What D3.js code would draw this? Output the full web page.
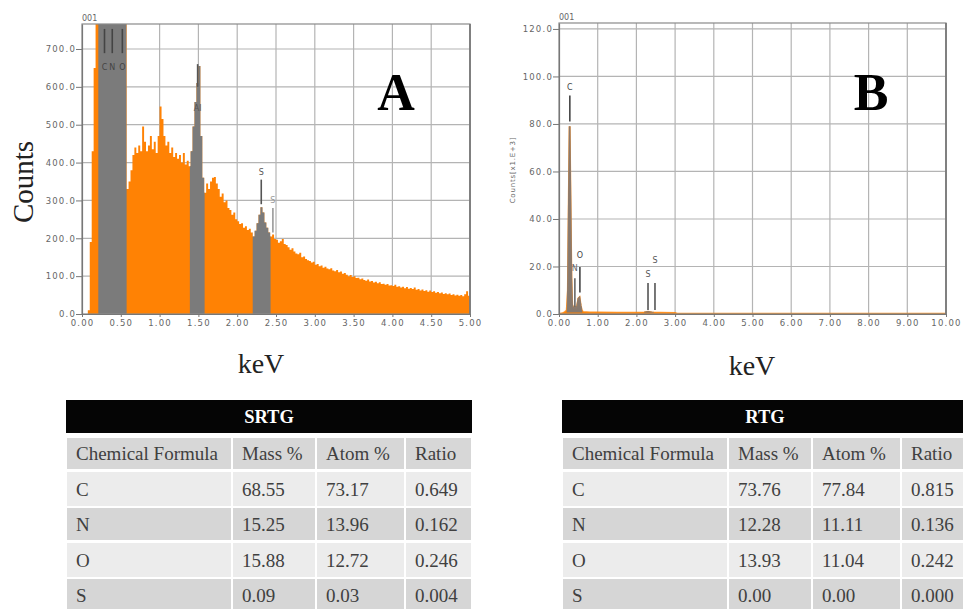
<!DOCTYPE html>
<html>
<head>
<meta charset="utf-8">
<script src="https://cdn.jsdelivr.net/npm/d3@7"></script>
<style>
  body { margin: 0; background: #fff; }
  svg { display: block; }
</style>
</head>
<body>
<div id="chart"></div>
<script>
// ---- data ----
// spectrum A: counts per 0.025 keV channel, 0.000 .. 5.000 keV (values above the frame are clipped)
const channelA = 0.025;
const countsA = [
  0, 0, 0, 10, 190, 430, 650, 1000, 1500,
  2000, 2000, 2000, 2000, 2000, 2000, 2000, 2000, 2000, 2000, 2000, 2000, 2000, 2000,
  330, 350, 380, 420, 440, 425, 445, 430, 495, 455, 430, 445, 470, 435, 455, 425, 470,
  548, 515, 470, 445, 455, 425, 440, 415, 425, 410, 420, 400, 425, 395, 405, 390,
  430, 495, 560, 610, 655, 470, 360, 320, 345, 330, 350, 360, 362, 345, 330, 310,
  318, 295, 300, 280, 275, 262, 268, 250, 245, 238, 240, 228, 232, 222, 225, 215,
  205, 220, 240, 262, 282, 268, 242, 228, 215, 205, 210, 198, 196, 188, 192, 198,
  185, 182, 176, 170, 174, 165, 160, 158, 162, 150, 152, 145, 142, 140, 136, 138,
  130, 132, 126, 128, 122, 125, 120, 118, 121, 115, 113, 116, 110, 112, 106, 108,
  104, 100, 103, 98, 100, 95, 96, 92, 94, 90, 88, 91, 86, 87, 83, 85,
  81, 84, 79, 80, 77, 79, 75, 76, 74, 77, 72, 73, 70, 72, 68, 71,
  67, 69, 66, 70, 64, 66, 62, 65, 61, 63, 59, 62, 58, 60, 56, 58,
  55, 57, 53, 55, 52, 54, 50, 52, 49, 51, 48, 50, 47, 52, 60, 48, 46
];
const greyRangesA = [[0.21, 0.575], [1.39, 1.58], [2.2, 2.43]];

// spectrum B: counts (x1000) against energy
const keVB = [0, 0.1, 0.15, 0.2, 0.23, 0.255, 0.275, 0.295, 0.32, 0.34, 0.36, 0.38, 0.41, 0.44,
  0.47, 0.5, 0.53, 0.56, 0.59, 0.62, 0.8, 1.0, 1.5, 2.0, 2.2, 2.3, 2.4, 2.6, 3.0, 3.05, 5, 10];
const countsB = [0, 0.3, 0.8, 1.5, 10, 50, 79, 50, 15, 4, 2.8, 2.5, 3, 2.2,
  3.5, 6.5, 7, 3.5, 1.5, 0.8, 0.6, 0.6, 0.5, 0.5, 0.6, 0.9, 0.6, 0.5, 0.4, 0.1, 0.1, 0.1];
const greyRangesB = [[0.2, 0.6], [2.2, 2.45]];

// element markers: [label, keV, top, bottom, labelY, colour]
const markersA = [
  ["C", 0.29, 753, 689, 653, "#444"],
  ["N", 0.39, 753, 689, 653, "#444"],
  ["O", 0.52, 753, 689, 653, "#444"],
  ["Al", 1.49, 660, 600, 545, "#555"],
  ["S", 2.31, 355, 290, 375, "#555"],
  ["S", 2.46, 280, 215, 300, "#999"]
];
const markersB = [
  ["C", 0.28, 92, 81, 95.5, "#444"],
  ["N", 0.41, 15, 3, 19.4, "#666"],
  ["O", 0.54, 19.8, 9, 24.8, "#444"],
  ["S", 2.30, 13, 1.7, 17, "#555"],
  ["S", 2.48, 13, 1.7, 22.7, "#555"]
];

// tables
const tableCols = ["Chemical Formula", "Mass %", "Atom %", "Ratio"];
const elements = ["C", "N", "O", "S"];
const srtgMass = [68.55, 15.25, 15.88, 0.09];
const srtgAtom = [73.17, 13.96, 12.72, 0.03];
const srtgRatio = [0.649, 0.162, 0.246, 0.004];
const rtgMass = [73.76, 12.28, 13.93, 0.00];
const rtgAtom = [77.84, 11.11, 11.04, 0.00];
const rtgRatio = [0.815, 0.136, 0.242, 0.000];

// ---- drawing ----
const svg = d3.select("#chart").append("svg")
  .attr("width", 963)
  .attr("height", 609);

const orange = "#ff8204", grey = "#7b7b7b", gridCol = "#b4b4b4";
const tickFont = "'DejaVu Sans', sans-serif";
const serif = "'Liberation Serif', 'Times New Roman', serif";

function drawPanel(id, x, y, xTicks, yTicks) {
  const [x0, x1] = x.range(), [y0, y1] = y.range();
  const g = svg.append("g").attr("id", id);

  g.append("clipPath").attr("id", id + "-plot")
    .append("rect").attr("x", x0).attr("y", y1).attr("width", x1 - x0).attr("height", y0 - y1);

  g.append("g").selectAll("line.v").data(xTicks.slice(1)).enter().append("line")
    .attr("x1", d => x(d)).attr("x2", d => x(d)).attr("y1", y1).attr("y2", y0)
    .attr("stroke", gridCol).attr("stroke-width", 1.2);
  g.append("g").selectAll("line.h").data(yTicks.slice(1)).enter().append("line")
    .attr("x1", x0).attr("x2", x1).attr("y1", d => y(d)).attr("y2", d => y(d))
    .attr("stroke", gridCol).attr("stroke-width", 1.2);
  return g;
}

function drawFrame(g, x, y, xTicks, yTicks, xFmt) {
  const [x0, x1] = x.range(), [y0, y1] = y.range();
  g.append("rect").attr("x", x0).attr("y", y1).attr("width", x1 - x0).attr("height", y0 - y1)
    .attr("fill", "none").attr("stroke", "#8a8a8a").attr("stroke-width", 1.2);
  g.append("line").attr("x1", x1).attr("x2", x1).attr("y1", y1).attr("y2", y0)
    .attr("stroke", "#777").attr("stroke-width", 1.6);

  const ax = g.append("g").attr("transform", `translate(0,${y0})`)
    .call(d3.axisBottom(x).tickValues(xTicks).tickFormat(d3.format(xFmt)).tickSize(3).tickSizeOuter(0));
  const ay = g.append("g").attr("transform", `translate(${x0},0)`)
    .call(d3.axisLeft(y).tickValues(yTicks).tickFormat(d3.format(".1f")).tickSize(6).tickSizeOuter(0));
  [ax, ay].forEach(a => {
    a.select(".domain").attr("stroke", "#777").attr("stroke-width", 1.2);
    a.selectAll(".tick line").attr("stroke", "#777");
    a.selectAll(".tick text").attr("fill", "#666").style("font-family", tickFont)
      .style("font-size", "8.5px").style("letter-spacing", "1.2px");
  });
  ay.selectAll(".tick text").attr("x", -6);
  ax.selectAll(".tick text").attr("y", 6);

  g.append("text").attr("x", x0).attr("y", y1 - 3)
    .attr("fill", "#666").style("font-family", tickFont).style("font-size", "8px").text("001");
}

function drawMarkers(g, x, y, markers) {
  markers.forEach(m => {
    g.append("line").attr("x1", x(m[1])).attr("x2", x(m[1])).attr("y1", y(m[2])).attr("y2", y(m[3]))
      .attr("stroke", m[5]).attr("stroke-width", 1.6);
    g.append("text").attr("x", x(m[1])).attr("y", y(m[4]) + 3)
      .attr("text-anchor", "middle").attr("fill", m[5])
      .style("font-family", tickFont).style("font-size", "8px")
      .text(m[0]);
  });
}

// ---- panel A ----
const xA = d3.scaleLinear().domain([0, 5]).range([82, 470]);
const yA = d3.scaleLinear().domain([0, 766]).range([314, 24]);
const xTicksA = d3.range(0, 5.01, 0.5);
const yTicksA = d3.range(0, 701, 100);
const gA = drawPanel("pa", xA, yA, xTicksA, yTicksA);

const areaA = d3.area()
  .x((d, i) => xA(i * channelA))
  .y0(yA(0))
  .y1(d => yA(d))
  .curve(d3.curveStepAfter);

gA.append("path").datum(countsA).attr("d", areaA)
  .attr("fill", orange).attr("clip-path", "url(#pa-plot)");

const clipGreyA = gA.append("clipPath").attr("id", "pa-grey");
clipGreyA.selectAll("rect").data(greyRangesA).enter().append("rect")
  .attr("x", d => xA(d[0])).attr("width", d => xA(d[1]) - xA(d[0]))
  .attr("y", yA.range()[1]).attr("height", yA.range()[0] - yA.range()[1]);
gA.append("g").attr("clip-path", "url(#pa-grey)")
  .append("path").datum(countsA).attr("d", areaA).attr("fill", grey);

drawMarkers(gA, xA, yA, markersA);
drawFrame(gA, xA, yA, xTicksA, yTicksA, ".2f");

svg.append("text").attr("transform", "translate(33,182) rotate(-90)")
  .attr("text-anchor", "middle").attr("fill", "#222")
  .style("font-family", serif).style("font-size", "29px").text("Counts");
svg.append("text").attr("x", 261).attr("y", 373).attr("text-anchor", "middle").attr("fill", "#222")
  .style("font-family", serif).style("font-size", "28px").text("keV");
svg.append("text").attr("x", 396).attr("y", 110).attr("text-anchor", "middle").attr("fill", "#000")
  .style("font-family", serif).style("font-size", "52px").style("font-weight", "bold").text("A");

// ---- panel B ----
const xB = d3.scaleLinear().domain([0, 10]).range([559, 946]);
const yB = d3.scaleLinear().domain([0, 122.5]).range([314, 23]);
const xTicksB = d3.range(0, 10.01, 1);
const yTicksB = d3.range(0, 121, 20);
const gB = drawPanel("pb", xB, yB, xTicksB, yTicksB);

const lineB = d3.line().x((d, i) => xB(keVB[i])).y(d => yB(d));
const areaB = d3.area().x((d, i) => xB(keVB[i])).y0(yB(0)).y1(d => yB(d));

gB.append("path").datum(countsB).attr("d", areaB).attr("fill", orange);
gB.append("path").datum(countsB).attr("d", lineB)
  .attr("fill", "none").attr("stroke", orange).attr("stroke-width", 2).attr("stroke-opacity", 0.85);
const clipGreyB = gB.append("clipPath").attr("id", "pb-grey");
clipGreyB.selectAll("rect").data(greyRangesB).enter().append("rect")
  .attr("x", d => xB(d[0])).attr("width", d => xB(d[1]) - xB(d[0]))
  .attr("y", yB.range()[1]).attr("height", yB(0.6) - yB.range()[1]);
gB.append("g").attr("clip-path", "url(#pb-grey)")
  .append("path").datum(countsB).attr("d", areaB)
  .attr("fill", "#85796f").attr("stroke", "#8d7a6c").attr("stroke-width", 1.6);

drawMarkers(gB, xB, yB, markersB);
drawFrame(gB, xB, yB, xTicksB, yTicksB, ".2f");

svg.append("text").attr("transform", "translate(515,170) rotate(-90)")
  .attr("text-anchor", "middle").attr("fill", "#666")
  .style("font-family", tickFont).style("font-size", "7px").style("letter-spacing", "0.8px")
  .text("Counts[x1.E+3]");
svg.append("text").attr("x", 752).attr("y", 375).attr("text-anchor", "middle").attr("fill", "#222")
  .style("font-family", serif).style("font-size", "28px").text("keV");
svg.append("text").attr("x", 871).attr("y", 110).attr("text-anchor", "middle").attr("fill", "#000")
  .style("font-family", serif).style("font-size", "52px").style("font-weight", "bold").text("B");

// ---- tables ----
const colW = [166, 84, 89, 67];
const rowTops = [438, 472, 508, 543, 579];
const rowBots = [469, 506, 540, 577, 612];
const rowFill = ["#d7d7d7", "#ececec", "#d6d6d6", "#ececec", "#d6d6d6"];

function drawTable(left, title, mass, atom, ratio) {
  const g = svg.append("g");
  const colX = [left];
  colW.forEach((w, i) => colX.push(colX[i] + w));

  g.append("rect").attr("x", left).attr("y", 400).attr("width", colX[4] - left).attr("height", 33)
    .attr("fill", "#050505");
  g.append("text").attr("x", (left + colX[4]) / 2).attr("y", 423).attr("text-anchor", "middle")
    .attr("fill", "#fff").style("font-family", serif).style("font-size", "18.5px").style("font-weight", "bold")
    .text(title);

  const rows = [tableCols].concat(elements.map((e, i) =>
    [e, mass[i].toFixed(2), atom[i].toFixed(2), ratio[i].toFixed(3)]));

  rows.forEach((row, r) => {
    row.forEach((cell, c) => {
      g.append("rect").attr("x", colX[c] + 1).attr("y", rowTops[r])
        .attr("width", colW[c] - 2).attr("height", rowBots[r] - rowTops[r])
        .attr("fill", rowFill[r]);
      g.append("text").attr("x", colX[c] + 10).attr("y", (rowTops[r] + rowBots[r]) / 2 + 6.5)
        .attr("fill", "#404040").style("font-family", serif).style("font-size", "19px")
        .text(cell);
    });
  });
}

drawTable(66, "SRTG", srtgMass, srtgAtom, srtgRatio);
drawTable(562, "RTG", rtgMass, rtgAtom, rtgRatio);
</script>
</body>
</html>
